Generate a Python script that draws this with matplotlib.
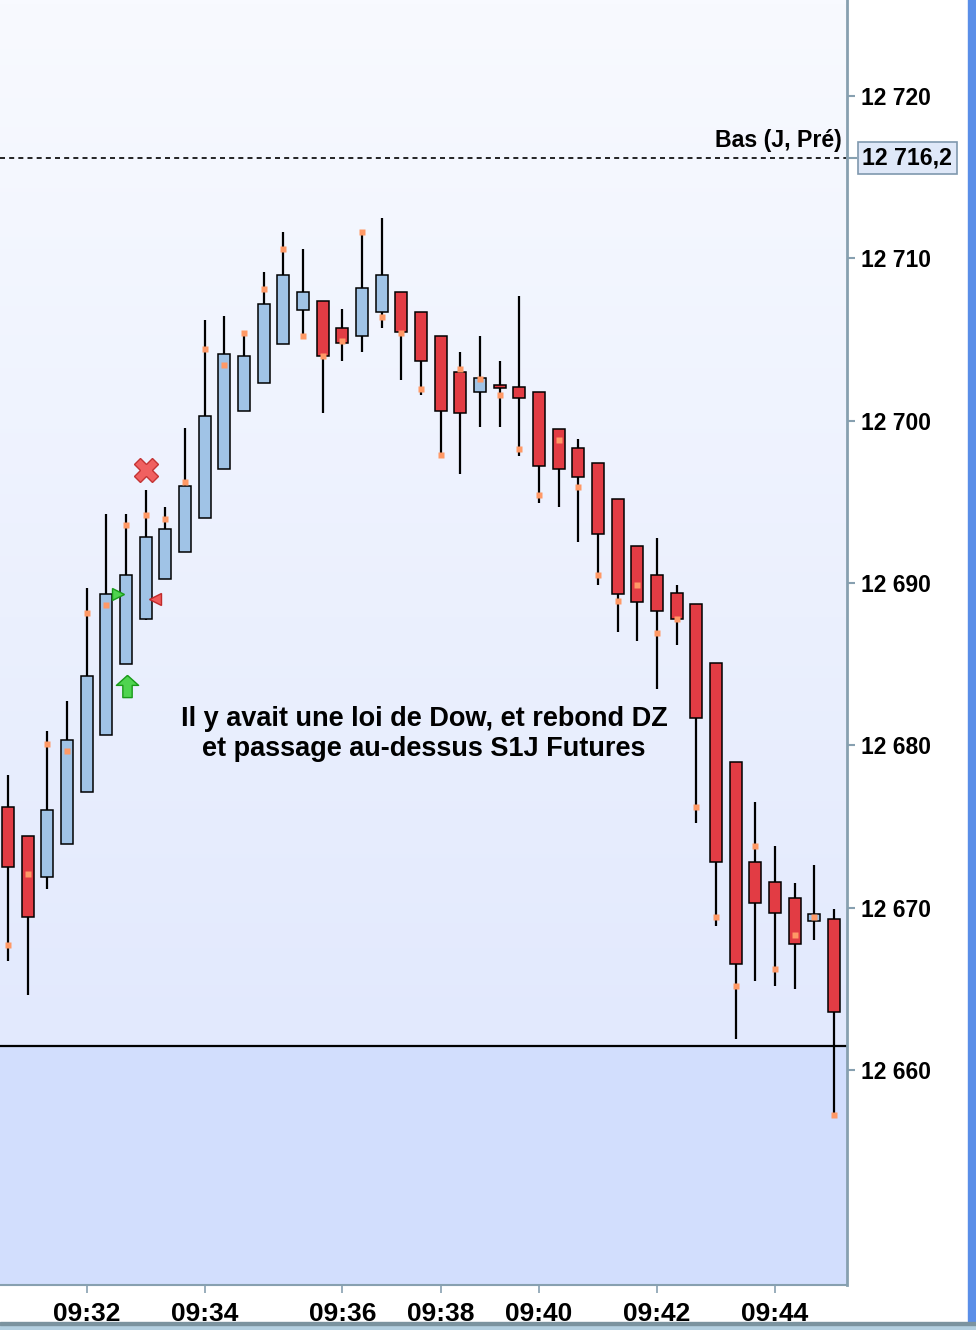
import numpy as np
import matplotlib
matplotlib.use("Agg")
import matplotlib.pyplot as plt
from matplotlib import font_manager
from matplotlib.path import Path

# bougies 1 minute (prix du contrat)
opens = [12676.2, 12674.4, 12671.9, 12673.9, 12677.1, 12680.65, 12685.0, 12687.8, 12690.25, 12691.9,
         12694.0, 12697.05, 12700.6, 12702.3, 12704.7, 12706.8, 12707.4, 12705.7, 12705.2, 12706.7,
         12707.9, 12706.7, 12705.2, 12703.0, 12701.75, 12702.2, 12702.1, 12701.75, 12699.5, 12698.3,
         12697.4, 12695.2, 12692.3, 12690.5, 12689.4, 12688.7, 12685.1, 12679.0, 12672.8, 12671.6,
         12670.6, 12669.2, 12669.3]
highs = [12678.2, 12674.4, 12680.9, 12682.7, 12689.7, 12694.25, 12694.25, 12695.7, 12694.7, 12699.55,
         12706.2, 12706.45, 12705.4, 12709.15, 12711.6, 12710.6, 12707.4, 12706.9, 12711.75, 12712.5,
         12707.9, 12706.7, 12705.2, 12704.2, 12705.2, 12703.7, 12707.7, 12701.75, 12699.5, 12698.9,
         12697.4, 12695.2, 12692.3, 12692.8, 12689.9, 12688.7, 12685.1, 12679.0, 12676.5, 12673.8,
         12671.5, 12672.6, 12669.9]
lows = [12666.7, 12664.6, 12671.15, 12673.9, 12677.1, 12680.65, 12685.0, 12687.7, 12690.25, 12691.9,
        12694.0, 12697.05, 12700.6, 12702.3, 12704.7, 12705.3, 12700.5, 12703.7, 12704.2, 12705.7,
        12702.5, 12701.6, 12697.9, 12696.7, 12699.6, 12699.6, 12697.8, 12694.95, 12694.7, 12692.5,
        12689.9, 12687.0, 12686.45, 12683.5, 12686.2, 12675.2, 12668.9, 12661.9, 12665.5, 12665.2,
        12665.0, 12668.0, 12657.2]
closes = [12672.5, 12669.4, 12676.0, 12680.3, 12684.25, 12689.3, 12690.5, 12692.85, 12693.35, 12696.0,
          12700.3, 12704.1, 12704.0, 12707.2, 12709.0, 12707.9, 12704.0, 12704.8, 12708.15, 12709.0,
          12705.45, 12703.7, 12700.6, 12700.5, 12702.6, 12702.0, 12701.4, 12697.2, 12697.0, 12696.55,
          12693.0, 12689.3, 12688.8, 12688.3, 12687.8, 12681.7, 12672.8, 12666.5, 12670.3, 12669.7,
          12667.75, 12669.6, 12663.55]
# points orange (indicateur)
marks = [12667.7, 12672.1, 12680.1, 12679.65, 12688.15, 12688.66, 12693.6, 12694.2, 12693.95, 12696.2,
         12704.4, 12703.45, 12705.4, 12708.1, 12710.6, 12705.2, 12704.0, 12704.9, 12711.6, 12706.4,
         12705.4, 12701.95, 12697.9, 12703.2, 12702.55, 12701.6, 12698.25, 12695.4, 12698.8, 12695.9,
         12690.5, 12688.9, 12689.9, 12686.9, 12687.8, 12676.2, 12669.45, 12665.2, 12673.8, 12666.2,
         12668.3, 12669.4, 12657.2]

tick_pos = [4, 10, 17, 22, 27, 33, 39]
tick_labels = ["09:32", "09:34", "09:36", "09:38", "09:40", "09:42", "09:44"]
y_ticks = [12660, 12670, 12680, 12690, 12700, 12710, 12720]

prev_low = 12716.2      # Bas (J, Pré)
level_line = 12661.5    # ligne horizontale noire
note = "Il y avait une loi de Dow, et rebond DZ\net passage au-dessus S1J Futures"

names = {f.name for f in font_manager.fontManager.ttflist}
narrow = "Liberation Sans Narrow" if "Liberation Sans Narrow" in names else "Liberation Sans"
base = "Liberation Sans"

BLUE = "#a0c3e6"
RED = "#e23c44"
ORANGE = "#ff9966"
AXC = "#87a0b0"

fig = plt.figure(figsize=(9.76, 13.3), dpi=100)
fig.patch.set_facecolor("white")
ax = fig.add_axes([0, 45 / 1330, 847 / 976, 1285 / 1330])

px = 16.233
ytop = 12720 + 96 / px
ybot = 12720 - (1285 - 96) / px
xmin, xmax = -0.41, 42.66
ax.set_xlim(xmin, xmax)
ax.set_ylim(ybot, ytop)

# fond dégradé
grad = np.linspace(0, 1, 256).reshape(-1, 1)
c_top = np.array([248, 250, 255]) / 255
c_bot = np.array([226, 233, 253]) / 255
img = c_top + (c_bot - c_top) * grad[:, :, None]
ax.imshow(img, extent=(xmin, xmax, level_line, ytop), aspect="auto", zorder=0, origin="upper")
ax.axhspan(ybot, level_line, color="#d2defd", zorder=0, lw=0)
ax.axhline(level_line, color="black", lw=1.6, zorder=2)

x = np.arange(len(opens))
o = np.array(opens); h = np.array(highs); l = np.array(lows); c = np.array(closes)
up = c >= o
ax.vlines(x, l, h, color="black", lw=1.6, zorder=3)
body_lo = np.minimum(o, c)
body_h = np.abs(c - o)
ax.bar(x, body_h, bottom=body_lo, width=0.61,
       color=np.where(up, BLUE, RED), edgecolor="black", linewidth=1.1, zorder=4)
ax.plot(x, marks, ls="none", marker="s", ms=5, color=ORANGE, mec="none", zorder=5)

# signaux
arrow = Path([(0, 1), (1, 0.1), (0.42, 0.1), (0.42, -1), (-0.42, -1), (-0.42, 0.1), (-1, 0.1), (0, 1)])
ax.plot(6.05, 12683.65, marker=arrow, ms=16, color="#4fd44f", mec="#199a19", mew=1.0, zorder=6)
ax.plot(5.6, 12689.3, marker=">", ms=8, color="#4fd44f", mec="#199a19", mew=1.0, zorder=6)
ax.plot(7.45, 12689.0, marker="<", ms=8, color="#f05a5a", mec="#c02a2a", mew=1.0, zorder=6)
ax.plot(7.02, 12696.96, marker="X", ms=17, color="#f06060", mec="#c43434", mew=1.0, zorder=6)

# bas de la veille
ax.axhline(prev_low, color="black", lw=1.2, ls=(0, (3, 2.5)), zorder=2)
ax.text(0.994, prev_low + 1.05, "Bas (J, Pré)", transform=ax.get_yaxis_transform(),
        ha="right", va="center", fontsize=16.7, fontweight="bold", family=base, zorder=6)
ax.plot([1.0, 1.011], [prev_low, prev_low], color=AXC, lw=1.5,
        transform=ax.get_yaxis_transform(), clip_on=False)
ax.text(1.018, prev_low, "12 716,2", transform=ax.get_yaxis_transform(),
        ha="left", va="center", fontsize=16.7, fontweight="bold", family=base,
        bbox=dict(boxstyle="square,pad=0.2", fc="#dfe8f8", ec="#7f98ae", lw=1.2))

ax.text(21.15, 12680.7, note, ha="center", va="center", fontsize=19.5, fontweight="bold",
        family=base, linespacing=1.2, zorder=6)

# axes
for s in ["left", "top"]:
    ax.spines[s].set_visible(False)
ax.spines["right"].set_color(AXC)
ax.spines["right"].set_linewidth(2)
ax.spines["bottom"].set_color(AXC)
ax.spines["bottom"].set_linewidth(1.5)
ax.yaxis.tick_right()
ax.set_yticks(y_ticks)
ax.set_yticklabels([f"{v // 1000} {v % 1000:03d}" for v in y_ticks])
ax.tick_params(axis="y", length=6, width=1.5, color=AXC, pad=4, labelsize=16.5)
for t in ax.get_yticklabels():
    t.set_fontweight("bold"); t.set_family(base)
ax.set_xticks(tick_pos)
ax.set_xticklabels(tick_labels)
ax.tick_params(axis="x", length=6, width=1.2, color=AXC, pad=6, labelsize=19)
for t in ax.get_xticklabels():
    t.set_fontweight("bold"); t.set_family(narrow)

# bords de la fenêtre
fig.patches.append(plt.Rectangle((968 / 976, 8 / 1330), 8 / 976, 1, transform=fig.transFigure,
                                 color="#5a8ee8", zorder=10))
fig.patches.append(plt.Rectangle((0, 0), 1, 5 / 1330, transform=fig.transFigure,
                                 color="#b3cfe0", zorder=10))
fig.patches.append(plt.Rectangle((0, 5 / 1330), 1, 3 / 1330, transform=fig.transFigure,
                                 color="#7b939f", zorder=10))

fig.savefig("out.png", dpi=100)
